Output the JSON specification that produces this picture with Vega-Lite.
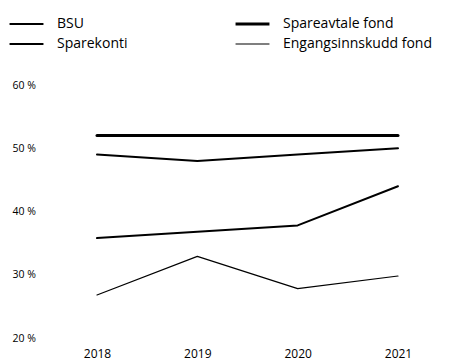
{
  "$schema": "https://vega.github.io/schema/vega-lite/v6.json",
  "autosize": "none",
  "width": 301,
  "height": 253,
  "padding": {"left": 97, "top": 85, "right": 51, "bottom": 25},
  "background": "white",
  "config": {
    "view": {"stroke": null},
    "font": "Open Sans",
    "axis": {"domain": false, "ticks": false, "grid": false, "labelColor": "black", "labelFont": "Open Sans"},
    "legend": {"labelFont": "Open Sans"}
  },
  "data": {
    "values": [
      {"year": "2018", "series": "Spareavtale fond", "value": 52},
      {"year": "2019", "series": "Spareavtale fond", "value": 52},
      {"year": "2020", "series": "Spareavtale fond", "value": 52},
      {"year": "2021", "series": "Spareavtale fond", "value": 52},
      {"year": "2018", "series": "Sparekonti", "value": 49},
      {"year": "2019", "series": "Sparekonti", "value": 48},
      {"year": "2020", "series": "Sparekonti", "value": 49},
      {"year": "2021", "series": "Sparekonti", "value": 50},
      {"year": "2018", "series": "BSU", "value": 35.8},
      {"year": "2019", "series": "BSU", "value": 36.8},
      {"year": "2020", "series": "BSU", "value": 37.8},
      {"year": "2021", "series": "BSU", "value": 44},
      {"year": "2018", "series": "Engangsinnskudd fond", "value": 26.8},
      {"year": "2019", "series": "Engangsinnskudd fond", "value": 32.9},
      {"year": "2020", "series": "Engangsinnskudd fond", "value": 27.8},
      {"year": "2021", "series": "Engangsinnskudd fond", "value": 29.8}
    ]
  },
  "mark": {"type": "line", "color": "black", "strokeCap": "round", "strokeJoin": "round"},
  "encoding": {
    "x": {
      "field": "year", "type": "ordinal", "title": null,
      "scale": {"type": "point", "padding": 0},
      "axis": {"labelAngle": 0, "labelPadding": 10, "labelFontSize": 12}
    },
    "y": {
      "field": "value", "type": "quantitative", "title": null,
      "scale": {"domain": [20, 60], "nice": false, "zero": false},
      "axis": {"values": [20, 30, 40, 50, 60], "labelExpr": "datum.value + ' %'", "labelAlign": "left", "labelPadding": 85, "labelFontSize": 10.5}
    },
    "strokeWidth": {
      "field": "series", "type": "nominal", "title": null,
      "scale": {"type": "ordinal", "domain": ["BSU", "Sparekonti", "Spareavtale fond", "Engangsinnskudd fond"], "range": [2, 2, 3, 1.2]},
      "legend": {
        "orient": "none", "legendX": -89, "legendY": -70, "columns": 2,
        "symbolType": "stroke", "symbolStrokeColor": "black", "symbolSize": 1150,
        "labelFontSize": 14, "labelColor": "black", "labelOffset": 12,
        "clipHeight": 18, "columnPadding": 106, "rowPadding": 2
      }
    },
    "detail": {"field": "series"}
  }
}
